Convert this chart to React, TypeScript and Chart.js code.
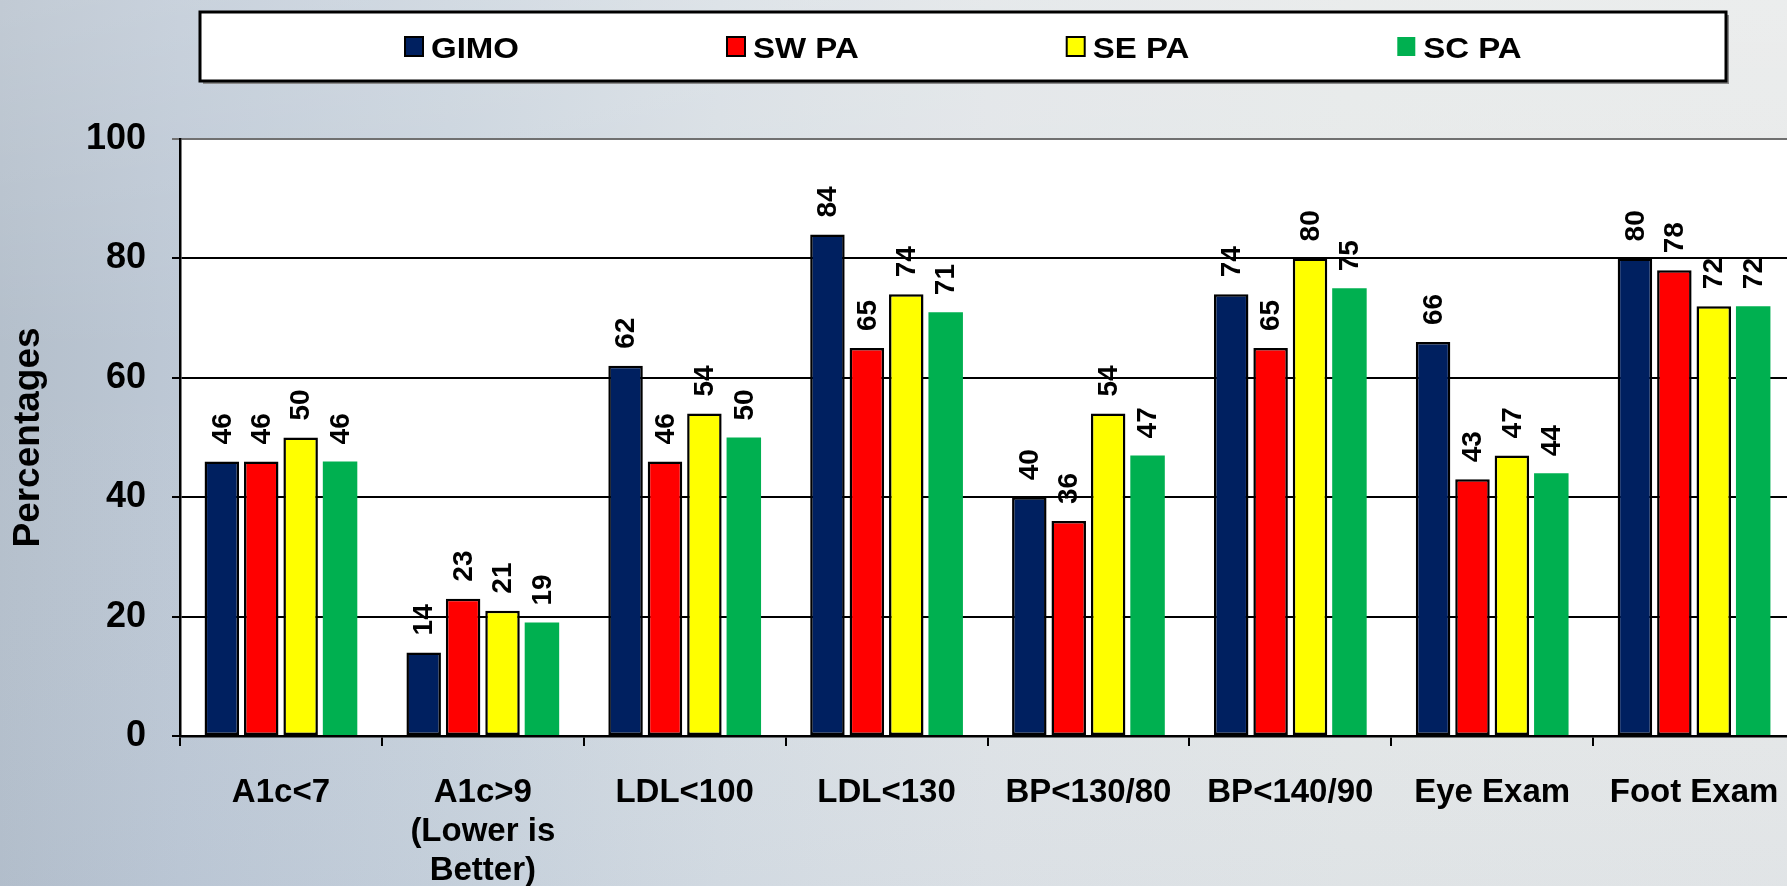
import React, { useEffect, useRef } from "react";
import { Chart, registerables } from "chart.js";

Chart.register(...registerables);

const categories: (string | string[])[] = [
  "A1c<7",
  ["A1c>9", "(Lower is", "Better)"],
  "LDL<100",
  "LDL<130",
  "BP<130/80",
  "BP<140/90",
  "Eye Exam",
  "Foot Exam",
];

const seriesNames = ["GIMO", "SW PA", "SE PA", "SC PA"];
const gimo = [46, 14, 62, 84, 40, 74, 66, 80];
const swpa = [46, 23, 46, 65, 36, 65, 43, 78];
const sepa = [50, 21, 54, 74, 54, 80, 47, 72];
const scpa = [46, 19, 50, 71, 47, 75, 44, 72];

const yMin = 0;
const yMax = 100;
const yStep = 20;
const yTitle = "Percentages";

const colors = ["#002060", "#FF0000", "#FFFF00", "#00B050"];
const borders = ["#000000", "#000000", "#000000", "rgba(0,0,0,0)"];
const borderWidths = [2.5, 2.5, 2.5, 0];

const FONT = '"Liberation Sans", Arial, Helvetica, sans-serif';

const backgroundPlugin = {
  id: "bgPlugin",
  beforeDraw(chart: any) {
    const { ctx, width, height, chartArea } = chart;
    ctx.save();
    const g = ctx.createLinearGradient(0, 0, width, 0);
    g.addColorStop(0, "#b4bfcb");
    g.addColorStop(0.1, "#bdc8d5");
    g.addColorStop(0.25, "#c8d2dc");
    g.addColorStop(0.4, "#d6dde3");
    g.addColorStop(0.55, "#e0e4e7");
    g.addColorStop(0.75, "#e5e8e8");
    g.addColorStop(1, "#e7e9e9");
    ctx.fillStyle = g;
    ctx.fillRect(0, 0, width, height);
    const g2 = ctx.createLinearGradient(0, 0, 0, height);
    g2.addColorStop(0, "rgba(255,255,255,0.18)");
    g2.addColorStop(0.4, "rgba(255,255,255,0.0)");
    g2.addColorStop(1, "rgba(150,170,200,0.08)");
    ctx.fillStyle = g2;
    ctx.fillRect(0, 0, width, height);
    ctx.fillStyle = "#ffffff";
    ctx.fillRect(
      chartArea.left,
      chartArea.top,
      chartArea.right - chartArea.left,
      chartArea.bottom - chartArea.top
    );
    ctx.restore();
  },
};

const legendPlugin = {
  id: "boxLegend",
  afterDraw(chart: any) {
    const { ctx } = chart;
    ctx.save();
    const bx = 200, by = 12, bw = 1526, bh = 69;
    ctx.fillStyle = "#8a8a8a";
    ctx.fillRect(bx + 3, by + 3, bw, bh);
    ctx.fillStyle = "#ffffff";
    ctx.fillRect(bx, by, bw, bh);
    ctx.strokeStyle = "#000000";
    ctx.lineWidth = 3;
    ctx.strokeRect(bx, by, bw, bh);

    ctx.font = `bold 30px ${FONT}`;
    ctx.textBaseline = "alphabetic";
    ctx.textAlign = "left";
    const stretch = 1.1;
    let x = 405;
    chart.data.datasets.forEach((ds: any) => {
      const sq = 18;
      const sy = 37;
      ctx.fillStyle = ds.backgroundColor;
      ctx.fillRect(x, sy, sq, sq + 1);
      if (ds.borderWidth > 0) {
        ctx.strokeStyle = "#000000";
        ctx.lineWidth = 2;
        ctx.strokeRect(x, sy, sq, sq + 1);
      }
      ctx.fillStyle = "#000000";
      const tx = x + sq + 8;
      ctx.save();
      ctx.translate(tx, 58);
      ctx.scale(stretch, 1);
      ctx.fillText(ds.label, 0, 0);
      ctx.restore();
      const w = ctx.measureText(ds.label).width * stretch;
      x = tx + w + 208;
    });
    ctx.restore();
  },
};

const valueLabelPlugin = {
  id: "valueLabels",
  afterDatasetsDraw(chart: any) {
    const { ctx } = chart;
    ctx.save();
    ctx.font = `bold 28px ${FONT}`;
    ctx.fillStyle = "#000000";
    ctx.textAlign = "left";
    ctx.textBaseline = "middle";
    chart.data.datasets.forEach((ds: any, di: number) => {
      const meta = chart.getDatasetMeta(di);
      meta.data.forEach((el: any, i: number) => {
        const v = ds.data[i];
        ctx.save();
        ctx.translate(el.x + 1, el.y - 17);
        ctx.rotate(-Math.PI / 2);
        ctx.fillText(String(v), 0, 0);
        ctx.restore();
      });
    });
    ctx.restore();
  },
};

export default function App() {
  const ref = useRef<HTMLCanvasElement | null>(null);

  useEffect(() => {
    document.body.style.margin = "0";
    const canvas = ref.current;
    if (!canvas) return;
    const data = [gimo, swpa, sepa, scpa];
    const chart = new Chart(canvas, {
      type: "bar",
      data: {
        labels: categories,
        datasets: seriesNames.map((name, i) => ({
          label: name,
          data: data[i],
          backgroundColor: colors[i],
          borderColor: borders[i],
          borderWidth: borderWidths[i],
          borderSkipped: false,
          barPercentage: 0.875,
          categoryPercentage: 0.781,
        })),
      },
      options: {
        responsive: false,
        animation: false,
        devicePixelRatio: 1,
        layout: { padding: { top: 139, right: 1, left: 0, bottom: 0 } },
        plugins: {
          legend: { display: false },
          title: { display: false },
          tooltip: { enabled: false },
        },
        scales: {
          x: {
            type: "category",
            grid: {
              display: true,
              offset: true,
              drawOnChartArea: false,
              drawTicks: true,
              tickLength: 10,
              color: "#000000",
              lineWidth: 2,
            },
            border: { display: true, color: "#000000", width: 2.5 },
            ticks: {
              color: "#000000",
              font: { family: FONT, size: 33, weight: "bold", lineHeight: 1.17 },
              padding: 28,
              maxRotation: 0,
              minRotation: 0,
              autoSkip: false,
            },
            afterFit(scale: any) {
              scale.height = 150;
              scale.paddingLeft = 0;
              scale.paddingRight = 0;
            },
          },
          y: {
            min: yMin,
            max: yMax,
            ticks: {
              stepSize: yStep,
              color: "#000000",
              font: { family: FONT, size: 36, weight: "bold" },
              padding: 26,
            },
            grid: {
              color: (c: any) => (c.tick && c.tick.value === yMax ? "#707070" : "#000000"),
              lineWidth: 2,
              tickLength: 8,
              drawTicks: true,
            },
            border: { display: true, color: "#000000", width: 2.5 },
            title: {
              display: true,
              text: yTitle,
              color: "#000000",
              font: { family: FONT, size: 37, weight: "bold", lineHeight: 1.2 },
              padding: { top: 7, bottom: 0 },
            },
            afterFit(scale: any) {
              scale.width = 180;
            },
          },
        },
      },
      plugins: [backgroundPlugin, valueLabelPlugin, legendPlugin],
    });
    return () => chart.destroy();
  }, []);

  return (
    <div
      style={{
        position: "fixed",
        left: 0,
        top: 0,
        width: 1787,
        height: 886,
        overflow: "hidden",
      }}
    >
      <canvas ref={ref} width={1796} height={886} style={{ display: "block" }} />
    </div>
  );
}
